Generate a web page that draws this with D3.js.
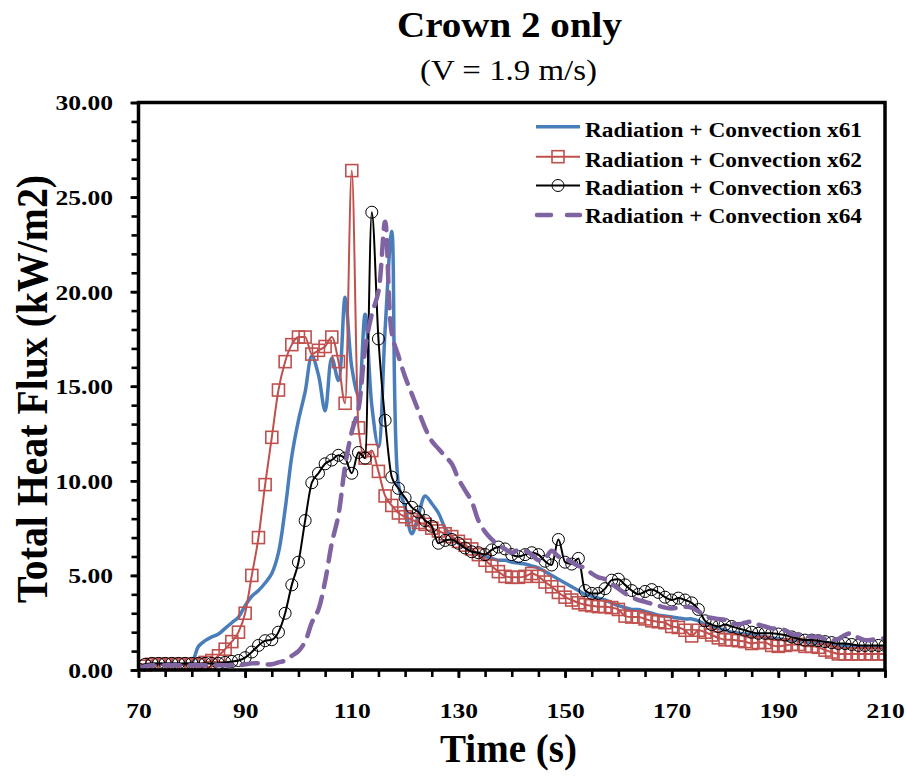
<!DOCTYPE html>
<html>
<head>
<meta charset="utf-8">
<script src="https://cdn.jsdelivr.net/npm/d3@7"></script>
<style>
  html, body { margin: 0; padding: 0; background: #fff; }
  svg { display: block; }
  text { font-family: "Liberation Serif", "Times New Roman", serif; }
</style>
</head>
<body>
<svg id="chart" width="906" height="776"></svg>
<script>
// ---------- data ----------
const chartTitle = "Crown 2 only";
const chartSubtitle = "(V = 1.9 m/s)";
const xAxisTitle = "Time (s)";
const yAxisTitle = "Total Heat Flux (kW/m2)";
const seriesNames = ["Radiation + Convection x61", "Radiation + Convection x62",
                     "Radiation + Convection x63", "Radiation + Convection x64"];
const xTickValues = [70, 90, 110, 130, 150, 170, 190, 210];
const yTickValues = [0, 5, 10, 15, 20, 25, 30];

const time = [70, 71.25, 72.5, 73.75, 75, 76.25, 77.5, 78.75, 80, 81.25, 82.5, 83.75, 85, 86.25, 87.5, 88.75,
  90, 91.25, 92.5, 93.75, 95, 96.25, 97.5, 98.75, 100, 101.25, 102.5, 103.75, 105, 106.25, 107.5, 108.75,
  110, 111.25, 112.5, 113.75, 115, 116.25, 117.5, 118.75, 120, 121.25, 122.5, 123.75, 125, 126.25, 127.5, 128.75,
  130, 131.25, 132.5, 133.75, 135, 136.25, 137.5, 138.75, 140, 141.25, 142.5, 143.75, 145, 146.25, 147.5, 148.75,
  150, 151.25, 152.5, 153.75, 155, 156.25, 157.5, 158.75, 160, 161.25, 162.5, 163.75, 165, 166.25, 167.5, 168.75,
  170, 171.25, 172.5, 173.75, 175, 176.25, 177.5, 178.75, 180, 181.25, 182.5, 183.75, 185, 186.25, 187.5, 188.75,
  190, 191.25, 192.5, 193.75, 195, 196.25, 197.5, 198.75, 200, 201.25, 202.5, 203.75, 205, 206.25, 207.5, 208.75, 210];

const x61 = [0.15, 0.25, 0.3, 0.3, 0.3, 0.3, 0.3, 0.3, 0.4, 1.25, 1.55, 1.75, 1.9, 2.2, 2.5, 2.8,
  3.4, 3.9, 4.2, 4.6, 5.1, 6.2, 8.5, 11.3, 13.2, 14.7, 16.6, 15.6, 13.7, 16.5, 15.3, 19.7,
  16.0, 14.5, 18.8, 14.0, 11.8, 18.0, 23.2, 9.8, 8.6, 7.2, 8.2, 9.2, 8.8, 8.3, 7.5, 7.0,
  6.7, 6.5, 6.3, 6.1, 6.0, 5.9, 5.8, 5.8, 5.7, 5.65, 5.6, 5.5, 5.4, 5.2, 5.0, 4.8,
  4.6, 4.4, 4.2, 4.0, 3.9, 3.8, 3.7, 3.55, 3.4, 3.3, 3.2, 3.2, 3.1, 3.0, 2.9, 2.85,
  2.8, 2.75, 2.7, 2.7, 2.6, 2.4, 2.3, 2.2, 2.1, 2.0, 1.95, 1.9, 1.85, 1.8, 1.75, 1.7,
  1.65, 1.6, 1.55, 1.55, 1.5, 1.45, 1.4, 1.4, 1.35, 1.3, 1.3, 1.25, 1.25, 1.2, 1.2, 1.2, 1.2];

const x62 = [0.0, 0.2, 0.3, 0.3, 0.3, 0.3, 0.3, 0.3, 0.3, 0.3, 0.4, 0.5, 0.75, 1.1, 1.5, 2.0,
  3.0, 5.0, 7.0, 9.8, 12.3, 14.8, 16.3, 17.2, 17.6, 17.6, 16.7, 16.9, 17.1, 17.6, 16.3, 14.1,
  26.4, 12.8, 11.2, 11.6, 10.5, 9.2, 8.7, 8.3, 8.1, 7.95, 7.8, 7.7, 7.5, 7.35, 7.2, 7.05,
  6.8, 6.6, 6.4, 6.1, 5.8, 5.5, 5.2, 4.95, 4.9, 4.9, 4.95, 5.1, 4.95, 4.65, 4.4, 4.1,
  3.85, 3.7, 3.55, 3.45, 3.4, 3.35, 3.35, 3.3, 3.2, 2.85, 2.8, 2.8, 2.7, 2.6, 2.55, 2.5,
  2.3, 2.25, 2.1, 1.8, 2.1, 2.0, 1.85, 1.7, 1.6, 1.6, 1.55, 1.5, 1.4, 1.45, 1.45, 1.3,
  1.25, 1.3, 1.35, 1.35, 1.25, 1.25, 1.2, 1.05, 0.95, 0.85, 0.85, 0.85, 0.85, 0.85, 0.85, 0.85, 0.85];

const x63 = [0.05, 0.3, 0.35, 0.35, 0.35, 0.35, 0.35, 0.35, 0.35, 0.35, 0.35, 0.35, 0.35, 0.4, 0.45, 0.5,
  0.65, 0.95, 1.3, 1.55, 1.6, 2.0, 3.0, 4.5, 5.7, 7.9, 9.9, 10.4, 10.9, 11.1, 11.35, 11.2,
  10.4, 11.5, 11.2, 24.2, 17.5, 13.2, 10.2, 9.6, 9.1, 8.6, 8.35, 7.9, 7.6, 6.7, 6.85, 6.9,
  6.7, 6.45, 6.25, 6.2, 6.1, 6.35, 6.5, 6.4, 6.1, 6.0, 6.1, 6.2, 6.1, 5.75, 5.55, 6.9,
  5.7, 5.6, 5.9, 4.2, 4.05, 4.05, 4.3, 4.75, 4.8, 4.5, 4.2, 4.0, 4.15, 4.25, 4.1, 3.85,
  3.7, 3.8, 3.7, 3.55, 3.2, 2.6, 2.4, 2.3, 2.4, 2.3, 2.2, 2.1, 2.0, 1.94, 1.94, 1.94,
  1.9, 1.85, 1.75, 1.65, 1.58, 1.58, 1.55, 1.5, 1.45, 1.4, 1.4, 1.35, 1.3, 1.3, 1.3, 1.3, 1.3];

const x64 = [0.05, 0.2, 0.25, 0.25, 0.25, 0.25, 0.25, 0.25, 0.25, 0.25, 0.25, 0.25, 0.25, 0.25, 0.25, 0.25,
  0.3, 0.35, 0.35, 0.3, 0.3, 0.4, 0.5, 0.75, 1.0, 1.5, 2.5, 3.2, 4.7, 6.7, 8.2, 10.8,
  12.6, 13.8, 17.0, 18.8, 20.0, 23.7, 17.8, 16.6, 15.5, 14.6, 13.7, 12.8, 12.1, 11.7, 11.3, 10.9,
  10.1, 9.5, 8.9, 7.9, 7.3, 6.9, 6.6, 6.4, 6.2, 6.35, 6.3, 6.1, 5.8, 5.9, 6.3, 6.0,
  5.9, 5.7, 5.5, 5.4, 5.1, 4.9, 4.8, 4.55, 4.3, 4.05, 3.85, 3.7, 3.6, 3.5, 3.4, 3.3,
  3.25, 3.3, 3.35, 3.3, 3.1, 2.85, 2.75, 2.7, 2.65, 2.5, 2.4, 2.5, 2.55, 2.4, 2.3, 2.2,
  2.2, 2.1, 1.9, 1.85, 1.8, 1.76, 1.76, 1.65, 1.58, 1.65, 1.85, 1.94, 1.7, 1.58, 1.6, 1.65, 1.67];

// ---------- layout ----------
const plot = { left: 138.5, right: 885, top: 102.5, bottom: 670 };
const colors = ["#4A7EBB", "#C0504D", "#000000", "#8064A2"];
const TEXT_STRETCH = 1.16;   // reference glyphs are a little wider than Times

const svg = d3.select("#chart");
const x = d3.scaleLinear().domain([70, 210]).range([plot.left, plot.right]);
const y = d3.scaleLinear().domain([0, 30]).range([plot.bottom, plot.top]);

function stretch(sel, factor) {
  sel.each(function () {
    const w = this.getComputedTextLength();
    d3.select(this).attr("textLength", w * factor).attr("lengthAdjust", "spacingAndGlyphs");
  });
}

// axes
const xMajor = d3.axisBottom(x).tickValues(xTickValues).tickSize(8).tickFormat(d3.format("d"));
const xMinor = d3.axisBottom(x).tickValues(d3.range(70, 211, 5)).tickSize(7).tickFormat("");
const yMajor = d3.axisLeft(y).tickValues(yTickValues).tickSize(8).tickFormat(d3.format(".2f"));
const yMinor = d3.axisLeft(y).tickValues(d3.range(0, 30.01, 1)).tickSize(7).tickFormat("");

function styleAxis(g) {
  g.select(".domain").remove();
  g.selectAll(".tick line").attr("stroke", "#000").attr("stroke-width", 2.6);
  g.selectAll(".tick text").attr("fill", "#000")
    .style("font-family", "'Liberation Serif', serif").style("font-weight", "bold").style("font-size", "22px");
}
svg.append("g").attr("transform", `translate(0,${plot.bottom})`).call(xMinor).call(styleAxis);
const xg = svg.append("g").attr("transform", `translate(0,${plot.bottom})`).call(xMajor).call(styleAxis);
xg.selectAll(".tick text").attr("dy", null).attr("y", 48);
stretch(xg.selectAll(".tick text"), TEXT_STRETCH);
svg.append("g").attr("transform", `translate(${plot.left},0)`).call(yMinor).call(styleAxis);
const yg = svg.append("g").attr("transform", `translate(${plot.left},0)`).call(yMajor).call(styleAxis);
yg.selectAll(".tick text").attr("x", -25.5).attr("dy", "0.34em");
stretch(yg.selectAll(".tick text"), TEXT_STRETCH);

// clip
svg.append("clipPath").attr("id", "clip").append("rect")
  .attr("x", plot.left).attr("y", plot.top - 10)
  .attr("width", plot.right - plot.left).attr("height", plot.bottom - plot.top + 12);

const data = [x61, x62, x63, x64].map(vals => time.map((t, i) => ({ t, v: vals[i] })));
const g = svg.append("g").attr("clip-path", "url(#clip)");

const smoothLine = d3.line().x(d => x(d.t)).y(d => y(d.v)).curve(d3.curveCatmullRom.alpha(0.5));
const plainLine = d3.line().x(d => x(d.t)).y(d => y(d.v)).curve(d3.curveMonotoneX);

// series 1 (blue)
g.append("path").datum(data[0]).attr("d", smoothLine)
  .attr("fill", "none").attr("stroke", colors[0]).attr("stroke-width", 3.5).attr("stroke-linejoin", "round");
// series 2 (red, squares)
g.append("path").datum(data[1]).attr("d", plainLine)
  .attr("fill", "none").attr("stroke", colors[1]).attr("stroke-width", 2).attr("stroke-linejoin", "round");
g.selectAll(".sq").data(data[1]).join("rect")
  .attr("x", d => x(d.t) - 6).attr("y", d => y(d.v) - 6)
  .attr("width", 12).attr("height", 12)
  .attr("fill", "none").attr("stroke", colors[1]).attr("stroke-width", 1.6);
// series 3 (black, circles)
g.append("path").datum(data[2]).attr("d", plainLine)
  .attr("fill", "none").attr("stroke", colors[2]).attr("stroke-width", 2).attr("stroke-linejoin", "round");
g.selectAll(".ci").data(data[2]).join("circle")
  .attr("cx", d => x(d.t)).attr("cy", d => y(d.v)).attr("r", 6)
  .attr("fill", "none").attr("stroke", colors[2]).attr("stroke-width", 1);
// series 4 (purple dashed)
g.append("path").datum(data[3]).attr("d", smoothLine)
  .attr("fill", "none").attr("stroke", colors[3]).attr("stroke-width", 4.5)
  .attr("stroke-dasharray", "16,10").attr("stroke-linecap", "round");

// frame
svg.append("rect").attr("x", plot.left).attr("y", plot.top)
  .attr("width", plot.right - plot.left).attr("height", plot.bottom - plot.top)
  .attr("fill", "none").attr("stroke", "#000").attr("stroke-width", 3.5);

// titles
function fitText(sel, len) { return sel.attr("textLength", len).attr("lengthAdjust", "spacingAndGlyphs"); }
fitText(svg.append("text").attr("x", 509.5).attr("y", 37).attr("text-anchor", "middle")
  .style("font-weight", "bold").style("font-size", "35px").text(chartTitle), 225);
fitText(svg.append("text").attr("x", 508.5).attr("y", 80).attr("text-anchor", "middle")
  .style("font-size", "30px").text(chartSubtitle), 177);
fitText(svg.append("text").attr("x", 508.5).attr("y", 762).attr("text-anchor", "middle")
  .style("font-weight", "bold").style("font-size", "40px").text(xAxisTitle), 137);
fitText(svg.append("text").attr("transform", "translate(47,389) rotate(-90)").attr("text-anchor", "middle")
  .style("font-weight", "bold").style("font-size", "45px").text(yAxisTitle), 428);

// legend
const legendText = [136.7, 166.7, 195, 223.3];
const legendLine = [126.7, 156.7, 185.5, 215];
const lg = svg.append("g");
seriesNames.forEach((name, i) => {
  const yy = legendLine[i];
  const line = lg.append("line").attr("x1", 536).attr("x2", 580).attr("y1", yy).attr("y2", yy)
    .attr("stroke", colors[i]).attr("stroke-width", i === 0 ? 3.5 : (i === 3 ? 4.5 : 2));
  if (i === 3) line.attr("stroke-dasharray", "14,16").attr("stroke-linecap", "round").attr("x1", 537);
  if (i === 1) lg.append("rect").attr("x", 552).attr("y", yy - 6).attr("width", 12).attr("height", 12)
    .attr("fill", "none").attr("stroke", colors[1]).attr("stroke-width", 1.6);
  if (i === 2) lg.append("circle").attr("cx", 558).attr("cy", yy).attr("r", 6)
    .attr("fill", "none").attr("stroke", "#000").attr("stroke-width", 1);
  fitText(lg.append("text").attr("x", 585).attr("y", legendText[i])
    .style("font-weight", "bold").style("font-size", "20px").text(name), 277);
});
</script>
</body>
</html>
